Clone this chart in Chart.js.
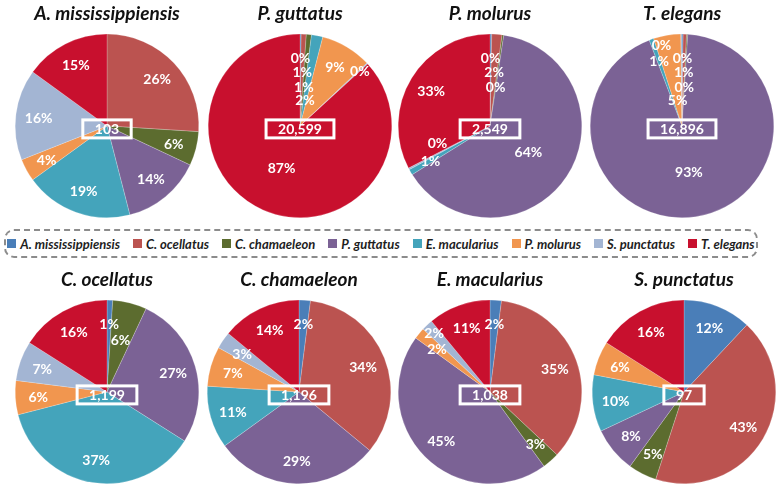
<!DOCTYPE html>
<html lang="en">
<head>
    <meta charset="UTF-8">
    <title>Host species composition</title>
    <script src="https://cdn.jsdelivr.net/npm/chart.js"></script>
    <style>
        body {
            margin: 0;
            background: #ffffff;
            font-family: 'Lato', sans-serif;
        }
        #page {
            position: relative;
            width: 780px;
            height: 486px;
            overflow: hidden;
        }
        .panel {
            position: absolute;
            width: 196px;
            height: 216px;
        }
        #legend {
            position: absolute;
            left: 4px;
            top: 229px;
            width: 750px;
            height: 25px;
            border: 2px dashed #8c8c8c;
            border-radius: 10px;
            display: flex;
            align-items: center;
            justify-content: center;
            gap: 13px;
            font: italic bold 13px 'Lato', sans-serif;
            color: #1e1e1e;
        }
        .item { display: flex; align-items: center; }
        .swatch { width: 9px; height: 9px; margin-right: 4px; }
    </style>
</head>
<body>
<div id="page">
    <div id="legend"></div>
</div>

<script>
    // source categories (slice order, clockwise from 12 o'clock)
    const species = ["A. mississippiensis", "C. ocellatus", "C. chamaeleon", "P. guttatus",
                     "E. macularius", "P. molurus", "S. punctatus", "T. elegans"];
    const colors = ["#4a7eb8", "#bb5350", "#5c6c2f", "#7b6295", "#44a4bb", "#f1964f", "#a3b5d3", "#c8102e"];

    // panel titles, in reading order
    const panels = ["A. mississippiensis", "P. guttatus", "P. molurus", "T. elegans",
                    "C. ocellatus", "C. chamaeleon", "E. macularius", "S. punctatus"];
    // total count shown in the middle box
    const totals = [103, 20599, 2549, 16896, 1199, 1196, 1038, 97];

    // share (%) per source category; 0 = the panel's own species
    const aMississippiensis = [0, 26, 6, 14, 19, 4, 16, 15];
    const pGuttatus         = [0.2, 0.9, 0.9, 0, 2, 9, 0.2, 86.8];
    const pMolurus          = [0.3, 1.8, 0.3, 63.7, 1, 0, 0.3, 32.6];
    const tElegans          = [0.2, 0.6, 0.2, 93.2, 0.8, 4.8, 0.2, 0];
    const cOcellatus        = [1, 0, 6, 27, 37, 6, 7, 16];
    const cChamaeleon       = [2, 34, 0, 29, 11, 7, 3, 14];
    const eMacularius       = [2, 35, 3, 45, 0, 2, 2, 11];
    const sPunctatus        = [12, 43, 5, 8, 10, 6, 0, 16];

    const shares = [aMississippiensis, pGuttatus, pMolurus, tElegans,
                    cOcellatus, cChamaeleon, eMacularius, sPunctatus];

    function overlapArea(a, b) {
        const w = Math.min(a.r, b.r) - Math.max(a.l, b.l);
        const h = Math.min(a.b, b.b) - Math.max(a.t, b.t);
        return (w > 0 && h > 0) ? w * h : 0;
    }

    // percent labels + white box with the total in the middle
    const sliceLabels = {
        id: 'sliceLabels',
        afterDatasetsDraw(chart, args, opts) {
            const ctx = chart.ctx;
            const meta = chart.getDatasetMeta(0);
            const vals = chart.data.datasets[0].data;
            const sum = vals.reduce((a, b) => a + b, 0);
            const first = meta.data[0];
            const cx = first.x, cy = first.y;

            ctx.save();
            ctx.font = 'bold 14px Lato';
            ctx.textAlign = 'center';
            ctx.textBaseline = 'middle';
            ctx.fillStyle = '#ffffff';

            // center box
            const totalText = opts.total.toLocaleString('en-US');
            const tw = ctx.measureText(totalText).width;
            const bw = tw + 24, bh = 18, by = cy + 3;
            ctx.strokeStyle = '#ffffff';
            ctx.lineWidth = 3;
            ctx.strokeRect(cx - bw / 2, by - bh / 2, bw, bh);
            ctx.fillText(totalText, cx, by + 1);

            const placed = [{l: cx - bw / 2, r: cx + bw / 2, t: by - bh / 2, b: by + bh / 2}];
            meta.data.forEach((arc, i) => {
                const v = vals[i];
                if (!v) return;
                const p = arc.getProps(['x', 'y', 'startAngle', 'endAngle', 'outerRadius'], true);
                const mid = (p.startAngle + p.endAngle) / 2;
                const frac = v / sum;
                const text = Math.round(frac * 100) + '%';
                const w = ctx.measureText(text).width + 1, h = 13;
                const base = frac > 0.6 ? 0.5 : 0.75;
                const radii = [base, base + 0.14, base - 0.16, base - 0.32, base - 0.46];
                const shifts = [0, 10, -10, 20, -20];
                let best = null;
                for (const s of shifts) {
                    for (const f of radii) {
                        const rr = p.outerRadius * f;
                        const px = p.x + Math.cos(mid) * rr - Math.sin(mid) * s;
                        const py = p.y + Math.sin(mid) * rr + Math.cos(mid) * s;
                        const box = {l: px - w / 2, r: px + w / 2, t: py - h / 2, b: py + h / 2};
                        const cost = placed.reduce((a, q) => a + overlapArea(box, q), 0);
                        if (!best || cost < best.cost) best = {px, py, box, cost};
                        if (cost === 0) break;
                    }
                    if (best.cost === 0) break;
                }
                placed.push(best.box);
                ctx.fillText(text, best.px, best.py + 1);
            });
            ctx.restore();
        }
    };

    const centersX = [107, 300, 490, 682, 107, 299, 490, 684];

    panels.forEach((title, k) => {
        const div = document.createElement('div');
        div.className = 'panel';
        div.style.left = (centersX[k] - 98) + 'px';
        div.style.top = (k < 4 ? 2 : 268) + 'px';
        const canvas = document.createElement('canvas');
        div.appendChild(canvas);
        document.getElementById('page').appendChild(div);

        new Chart(canvas, {
            type: 'pie',
            data: {
                labels: species,
                datasets: [{
                    data: shares[k],
                    backgroundColor: colors,
                    borderColor: 'rgba(255,255,255,0.35)',
                    borderWidth: c => c.raw ? 0.6 : 0
                }]
            },
            options: {
                responsive: true,
                maintainAspectRatio: false,
                animation: false,
                layout: { padding: 0 },
                plugins: {
                    legend: { display: false },
                    tooltip: { enabled: false },
                    title: {
                        display: true,
                        text: title,
                        color: '#111111',
                        font: { family: 'Lato', size: 19, weight: 'bold', style: 'italic' },
                        padding: { top: 0, bottom: 9 }
                    },
                    sliceLabels: { total: totals[k] }
                }
            },
            plugins: [sliceLabels]
        });
    });

    // shared legend
    const legend = document.getElementById('legend');
    species.forEach((name, i) => {
        const item = document.createElement('div');
        item.className = 'item';
        item.innerHTML = '<span class="swatch" style="background:' + colors[i] + '"></span>' + name;
        legend.appendChild(item);
    });
</script>
</body>
</html>
